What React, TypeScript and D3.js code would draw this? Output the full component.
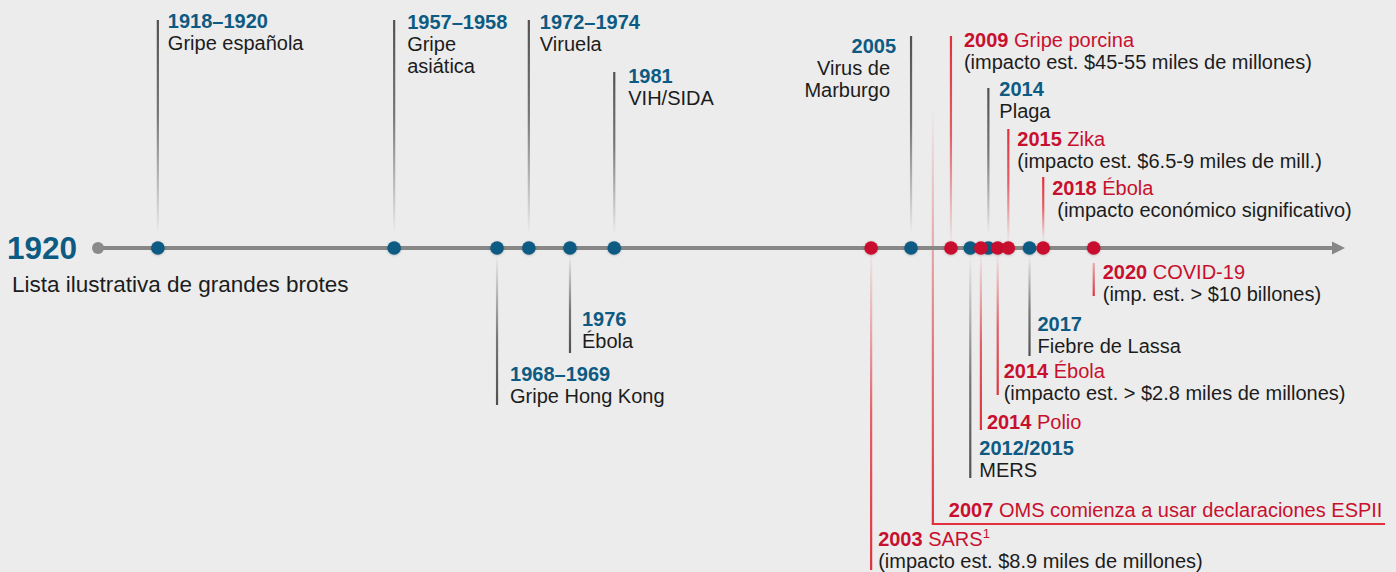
import React from "react";
import * as d3 from "d3";

// ---------- DATA ----------
// Outbreaks (blue markers): year label, name lines, position along the illustrative timeline (0–100)
const outbreakYears = ["1918–1920", "1957–1958", "1968–1969", "1972–1974", "1976", "1981", "2005", "2012/2015", "2014", "2017"];
const outbreakNames = [
  ["Gripe española"],
  ["Gripe", "asiática"],
  ["Gripe Hong Kong"],
  ["Viruela"],
  ["Ébola"],
  ["VIH/SIDA"],
  ["Virus de", "Marburgo"],
  ["MERS"],
  ["Plaga"],
  ["Fiebre de Lassa"],
];
const outbreakPos = [4.8, 23.75, 32.0, 34.55, 37.85, 41.4, 65.2, 69.95, 71.4, 74.7];

// Emergencies / PHEIC events (red markers)
const redYears = ["2003", "2007", "2009", "2014", "2014", "2015", "2018", "2020"];
const redNames = ["SARS", "OMS comienza a usar declaraciones ESPII", "Gripe porcina", "Polio", "Ébola", "Zika", "Ébola", "COVID-19"];
const redNotes = [
  "(impacto est. $8.9 miles de millones)",
  "",
  "(impacto est. $45-55 miles de millones)",
  "",
  "(impacto est. > $2.8 miles de millones)",
  "(impacto est. $6.5-9 miles de mill.)",
  "(impacto económico significativo)",
  "(imp. est. > $10 billones)",
];
const redSup = ["1", "", "", "", "", "", "", ""];
const redHasDot = [true, false, true, true, true, true, true, true];
const redPos = [62.0, 66.95, 68.4, 70.8, 72.15, 73.0, 75.8, 79.85];

const startLabel = "1920";
const subtitle = "Lista ilustrativa de grandes brotes";

// ---------- LAYOUT ----------
const W = 1396;
const H = 572;
const AXIS_Y = 248;
const FONT = '"Liberation Sans", Arial, Helvetica, sans-serif';
const FS = 20;
const LH = 21.8;
const BLUE = "#0d5a82";
const RED = "#c8102e";
const RED_LINE = "#e0313c";
const GREY_LINE = "#505050";
const TEXT = "#1c1c1c";
const BG = "#ececec";

const outbreakLayout = [
  { end: 20, dx: 10, y: 28 },
  { end: 20, dx: 13, y: 29 },
  { end: 405, dx: 13, y: 381 },
  { end: 20, dx: 11, y: 29 },
  { end: 353, dx: 12, y: 326 },
  { end: 72, dx: 14, y: 83 },
  { end: 36, dx: -15, y: 53, anchor: "end", nameDx: -21 },
  { end: 478, dx: 9, y: 455 },
  { end: 88, dx: 11, y: 96 },
  { end: 356, dx: 8, y: 331 },
];

const redLayout = [
  { end: 570, dx: 7, y: 546 },
  { end: 106, dx: 16, y: 517, bend: 524, tail: 1385 },
  { end: 36, dx: 13, y: 47 },
  { end: 430, dx: 6, y: 429 },
  { end: 395, dx: 6, y: 378 },
  { end: 129, dx: 9, y: 146 },
  { end: 177, dx: 9, y: 195, noteDx: 14 },
  { start: 263, end: 296, dx: 9, y: 279 },
];

export default function App() {
  const x = d3.scaleLinear().domain([0, 100]).range([98, 1345]);
  const axisEnd = x(100);

  const grads: React.ReactNode[] = [];
  const lines: React.ReactNode[] = [];

  outbreakPos.forEach((p, i) => {
    const L = outbreakLayout[i];
    const cx = x(p);
    const id = `gb${i}`;
    const up = L.end < AXIS_Y;
    const near = up ? AXIS_Y - 14 : AXIS_Y + 8;
    grads.push(
      <linearGradient key={id} id={id} gradientUnits="userSpaceOnUse" x1={cx} x2={cx} y1={L.end} y2={near}>
        <stop offset="0" stopColor={GREY_LINE} stopOpacity={1} />
        <stop offset="0.45" stopColor={GREY_LINE} stopOpacity={0.75} />
        <stop offset="1" stopColor={GREY_LINE} stopOpacity={0.0} />
      </linearGradient>
    );
    lines.push(
      <line key={"lb" + i} x1={cx} x2={cx} y1={L.end} y2={up ? AXIS_Y : AXIS_Y} stroke={`url(#${id})`} strokeWidth={2.2} />
    );
  });

  redPos.forEach((p, i) => {
    const L: any = redLayout[i];
    const cx = x(p);
    const id = `gr${i}`;
    if (L.bend) {
      grads.push(
        <linearGradient key={id} id={id} gradientUnits="userSpaceOnUse" x1={cx} x2={cx} y1={L.end} y2={L.bend}>
          <stop offset="0" stopColor={RED_LINE} stopOpacity={0.0} />
          <stop offset="0.55" stopColor={RED_LINE} stopOpacity={0.6} />
          <stop offset="1" stopColor={RED_LINE} stopOpacity={1} />
        </linearGradient>
      );
      lines.push(<line key={"lr" + i} x1={cx} x2={cx} y1={L.end} y2={L.bend} stroke={`url(#${id})`} strokeWidth={2.2} />);
      lines.push(<line key={"lrh" + i} x1={cx - 1.1} x2={L.tail} y1={L.bend} y2={L.bend} stroke={RED_LINE} strokeWidth={2.2} />);
      return;
    }
    if (L.start) {
      grads.push(
        <linearGradient key={id} id={id} gradientUnits="userSpaceOnUse" x1={cx} x2={cx} y1={L.start} y2={L.end}>
          <stop offset="0" stopColor={RED_LINE} stopOpacity={0.35} />
          <stop offset="1" stopColor={RED_LINE} stopOpacity={1} />
        </linearGradient>
      );
      lines.push(<line key={"lr" + i} x1={cx} x2={cx} y1={L.start} y2={L.end} stroke={`url(#${id})`} strokeWidth={2.2} />);
      return;
    }
    const up = L.end < AXIS_Y;
    const near = up ? AXIS_Y - 10 : AXIS_Y + 10;
    grads.push(
      <linearGradient key={id} id={id} gradientUnits="userSpaceOnUse" x1={cx} x2={cx} y1={L.end} y2={near}>
        <stop offset="0" stopColor={RED_LINE} stopOpacity={1} />
        <stop offset="0.5" stopColor={RED_LINE} stopOpacity={0.75} />
        <stop offset="1" stopColor={RED_LINE} stopOpacity={0.05} />
      </linearGradient>
    );
    lines.push(<line key={"lr" + i} x1={cx} x2={cx} y1={L.end} y2={AXIS_Y} stroke={`url(#${id})`} strokeWidth={2.2} />);
  });

  const labels: React.ReactNode[] = [];
  outbreakPos.forEach((p, i) => {
    const L: any = outbreakLayout[i];
    const cx = x(p);
    const anchor = L.anchor || "start";
    labels.push(
      <text key={"ty" + i} x={cx + L.dx} y={L.y} fill={BLUE} fontWeight={700} fontSize={FS} textAnchor={anchor}>
        {outbreakYears[i]}
      </text>
    );
    outbreakNames[i].forEach((n, j) => {
      labels.push(
        <text key={`tn${i}-${j}`} x={cx + (L.nameDx ?? L.dx)} y={L.y + LH * (j + 1)} fill={TEXT} fontSize={FS} textAnchor={anchor}>
          {n}
        </text>
      );
    });
  });

  redPos.forEach((p, i) => {
    const L: any = redLayout[i];
    const cx = x(p);
    labels.push(
      <text key={"ry" + i} x={cx + L.dx} y={L.y} fontSize={FS}>
        <tspan fill={RED} fontWeight={700}>{redYears[i]}</tspan>
        <tspan fill={RED}>{" " + redNames[i]}</tspan>
        {redSup[i] ? (
          <tspan fill={RED} fontSize={13} dy={-8}>{redSup[i]}</tspan>
        ) : null}
      </text>
    );
    if (redNotes[i]) {
      labels.push(
        <text key={"rn" + i} x={cx + (L.noteDx ?? L.dx)} y={L.y + LH} fill={TEXT} fontSize={FS}>
          {redNotes[i]}
        </text>
      );
    }
  });

  return (
    <svg
      width={W}
      height={H}
      viewBox={`0 0 ${W} ${H}`}
      style={{ position: "absolute", left: 0, top: 0, display: "block" }}
      fontFamily={FONT}
    >
      <defs>
        {grads}
        <filter id="dotShadow" x="-50%" y="-50%" width="200%" height="200%">
          <feDropShadow dx="0" dy="0.5" stdDeviation="1.2" floodColor="#000" floodOpacity="0.25" />
        </filter>
      </defs>
      <rect x={0} y={0} width={W} height={H} fill={BG} />
      {lines}
      {/* axis */}
      <line x1={x(0)} x2={axisEnd - 12} y1={AXIS_Y} y2={AXIS_Y} stroke="#878787" strokeWidth={4} />
      <path d={`M${axisEnd - 13},${AXIS_Y - 6.5} L${axisEnd},${AXIS_Y} L${axisEnd - 13},${AXIS_Y + 6.5} Z`} fill="#878787" />
      <circle cx={x(0)} cy={AXIS_Y} r={6} fill="#8a8a8a" />
      {/* dots */}
      {outbreakPos.map((p, i) => (
        <circle key={"db" + i} cx={x(p)} cy={AXIS_Y} r={6.8} fill={BLUE} filter="url(#dotShadow)" />
      ))}
      {redPos.map((p, i) =>
        redHasDot[i] ? <circle key={"dr" + i} cx={x(p)} cy={AXIS_Y} r={6.8} fill={RED} filter="url(#dotShadow)" /> : null
      )}
      {/* left labels */}
      <text x={7} y={259} fill={BLUE} fontWeight={700} fontSize={31.5}>
        {startLabel}
      </text>
      <text x={12} y={292} fill={TEXT} fontSize={22.5}>
        {subtitle}
      </text>
      {labels}
    </svg>
  );
}
